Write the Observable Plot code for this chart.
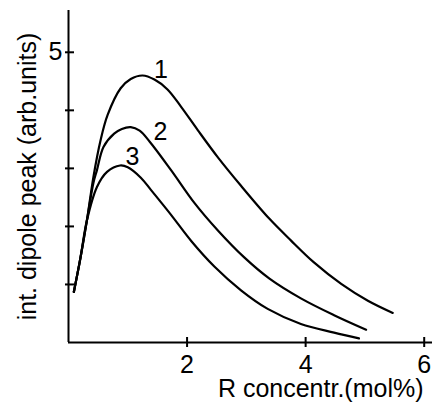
<!DOCTYPE html>
<html>
<head>
<meta charset="utf-8">
<script src="https://cdn.jsdelivr.net/npm/d3@7"></script>
<script src="https://cdn.jsdelivr.net/npm/@observablehq/plot@0.6"></script>
<style>
  html, body { margin: 0; padding: 0; background: #fff; }
  #chart svg { display: block; }
</style>
</head>
<body>
<div id="chart"></div>
<script>
// Curve 1, 2, 3: [R concentration (mol%), integrated dipole peak (arb. units)]
const curve1 = [[0.09,0.87],[0.2,1.45],[0.31,2.1],[0.42,2.85],[0.54,3.48],[0.66,3.92],[0.88,4.38],[1.05,4.54],[1.25,4.60],[1.45,4.53],[1.67,4.36],[1.9,4.06],[2.18,3.66],[2.52,3.19],[2.91,2.70],[3.39,2.13],[3.75,1.76],[4.14,1.38],[4.6,1.01],[5.05,0.72],[5.47,0.51]];
const curve2 = [[0.09,0.87],[0.2,1.45],[0.31,2.1],[0.42,2.75],[0.48,2.97],[0.59,3.37],[0.77,3.60],[0.9,3.68],[1.05,3.71],[1.2,3.65],[1.37,3.46],[1.73,2.97],[2.12,2.41],[2.52,1.93],[2.96,1.47],[3.39,1.10],[3.92,0.76],[4.48,0.47],[5.02,0.22]];
const curve3 = [[0.09,0.87],[0.2,1.45],[0.31,2.1],[0.48,2.68],[0.65,2.94],[0.87,3.05],[1.0,3.02],[1.22,2.84],[1.39,2.63],[1.73,2.20],[2.07,1.75],[2.46,1.31],[2.91,0.90],[3.36,0.58],[3.92,0.32],[4.48,0.17],[4.90,0.07]];
const curveLabels = [{label: "1", x: 1.56, y: 4.69}, {label: "2", x: 1.55, y: 3.63}, {label: "3", x: 1.08, y: 3.19}];
const xTicks = [2, 4, 6];
const yTicks = [1, 2, 3, 4, 5];
const yTickLabels = [5];
const xTitle = "R concentr.(mol%)";
const yTitle = "int. dipole peak (arb.units)";

const series = [
  {name: "1", pts: curve1},
  {name: "2", pts: curve2},
  {name: "3", pts: curve3}
].flatMap(s => s.pts.map(([x, y]) => ({series: s.name, x, y})));

const font = "Liberation Sans, Arial, sans-serif";

const chart = Plot.plot({
  width: 432,
  height: 410,
  marginLeft: 68,
  marginRight: 0,
  marginTop: 10,
  marginBottom: 68,
  style: {fontFamily: font, fontSize: "25px", background: "#fff", color: "#000", overflow: "visible"},
  x: {domain: [0, 6.14]},
  y: {domain: [0, 5.72]},
  marks: [
    Plot.ruleX([0], {stroke: "#000", strokeWidth: 2}),
    Plot.ruleY([0], {stroke: "#000", strokeWidth: 2}),
    Plot.ruleX(xTicks, {x: d => d, y1: 0, y2: 0, insetTop: -5, insetBottom: -5, stroke: "#000", strokeWidth: 2}),
    Plot.ruleY(yTicks, {y: d => d, x1: 0, x2: 0, insetLeft: -3, insetRight: -6, stroke: "#000", strokeWidth: 2}),
    Plot.axisX({ticks: xTicks, tickFormat: d => String(d), tickSize: 0, tickPadding: 13, label: null, fontSize: 25}),
    Plot.axisY({ticks: yTickLabels, tickFormat: d => String(d), tickSize: 0, tickPadding: 6, label: null, fontSize: 25}),
    Plot.line(series, {x: "x", y: "y", z: "series", curve: "catmull-rom", stroke: "#000", strokeWidth: 2.2}),
    Plot.text(curveLabels, {x: "x", y: "y", text: "label", fontSize: 25, fill: "#000"}),
    Plot.text([xTitle], {frameAnchor: "bottom-right", dx: -9, dy: 54, textAnchor: "end", fontSize: 25, fill: "#000"}),
    Plot.text([yTitle], {frameAnchor: "left", dx: -41, rotate: -90, textAnchor: "middle", fontSize: 25, fill: "#000"})
  ]
});
document.getElementById("chart").appendChild(chart);
</script>
</body>
</html>
